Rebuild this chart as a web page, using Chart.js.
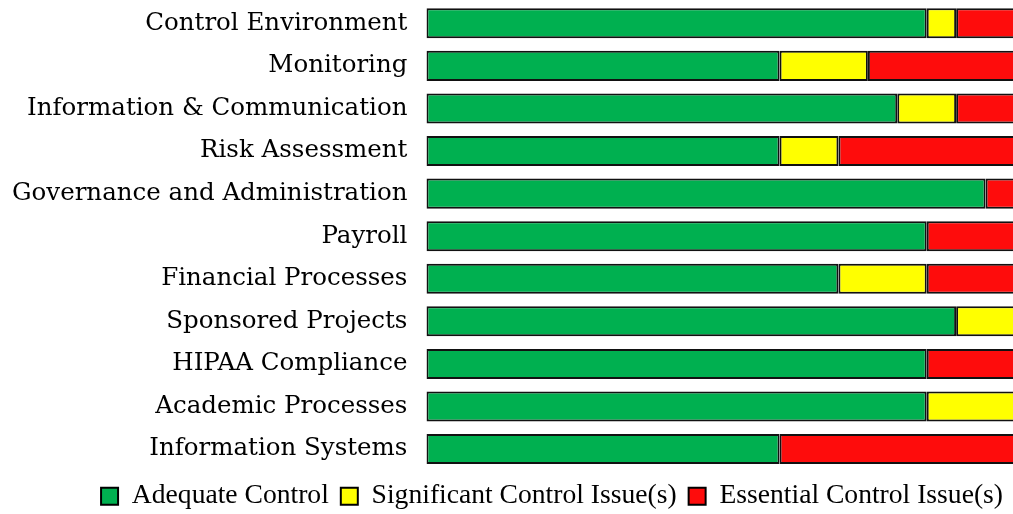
<!DOCTYPE html>
<html><head><meta charset="utf-8">
<script src="https://cdn.jsdelivr.net/npm/chart.js@4"></script>
<style>html,body{margin:0;padding:0;overflow:hidden;background:#fff;width:1013px;height:514px}
#wrap{width:1015px;height:514px;position:relative}</style>
</head><body><div id="wrap"><canvas id="c"></canvas></div>
<script>
const categories = ["Control Environment","Monitoring","Information & Communication","Risk Assessment","Governance and Administration","Payroll","Financial Processes","Sponsored Projects","HIPAA Compliance","Academic Processes","Information Systems"];
const adequate    = [85,60,80,60,95,85,70,90,85,85,60];
const significant = [5,15,10,10,0,0,15,10,0,15,0];
const essential   = [10,25,10,30,5,15,15,0,15,0,40];
const seriesNames = ["Adequate Control","Significant Control Issue(s)","Essential Control Issue(s)"];
const colors = ["#00b050","#ffff00","#fe0c0c"];
const vals = [adequate, significant, essential];
const ch = new Chart(document.getElementById('c'), {
  type: 'bar',
  data: { labels: categories, datasets: vals.map((v,i)=>({label: seriesNames[i], data: v.map(x=>x===0?null:x), backgroundColor: colors[i], borderColor:'#111', borderWidth:2, borderSkipped:false, barPercentage:0.705, categoryPercentage:1})) },
  options: {
    indexAxis:'y', responsive:true, maintainAspectRatio:false, animation:false,
    layout:{padding:{top:2,bottom:-6,left:1,right:0}},
    scales:{
      x:{stacked:true,min:0,max:100,display:false},
      y:{stacked:true,grid:{display:false},border:{display:false},
         afterFit:(s)=>{s.paddingTop=0;s.paddingBottom=0;},
         ticks:{color:'#000',padding:11,font:{family:'DejaVu Serif',size:24.5}}}
    },
    plugins:{
      legend:{position:'bottom',align:'end',labels:{color:'#000',boxWidth:17,boxHeight:17,padding:12,font:{family:'Liberation Serif',size:27.6},
        generateLabels:(c)=>c.data.datasets.map((d,i)=>({text:d.label,fillStyle:d.backgroundColor,strokeStyle:'#000',lineWidth:2,datasetIndex:i}))}},
      tooltip:{enabled:false}
    }
  }
});
</script></body></html>
